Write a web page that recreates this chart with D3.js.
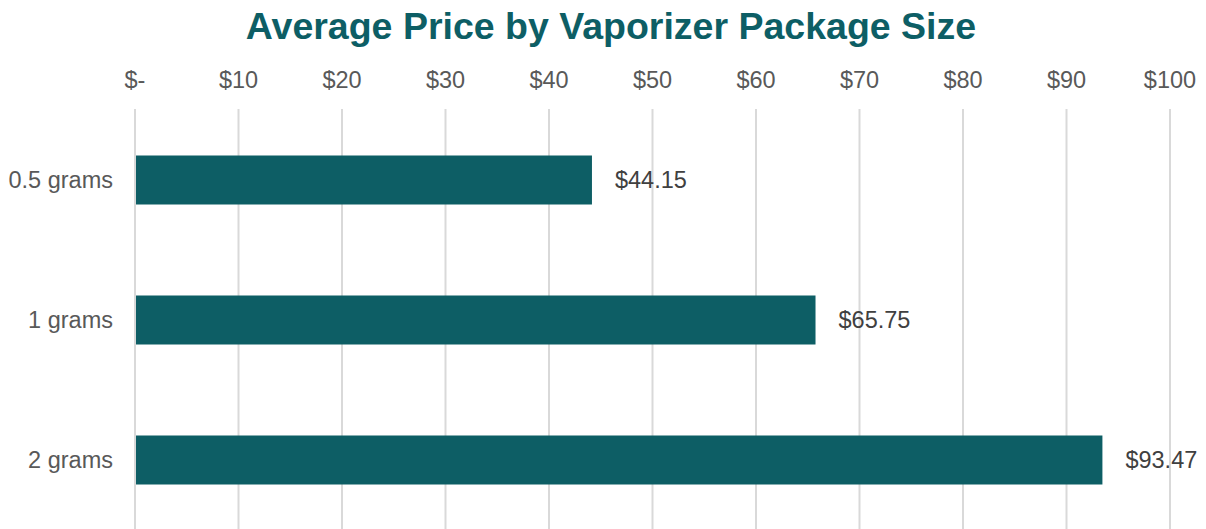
<!DOCTYPE html>
<html>
<head>
    <meta charset="utf-8">
    <title>Average Price by Vaporizer Package Size</title>
    <script src="https://d3js.org/d3.v7.min.js"></script>
    <style>
        body {
            margin: 0;
            background: #ffffff;
            font-family: 'Liberation Sans', Arial, sans-serif;
        }
        .grid line {
            stroke: #d9d9d9;
            stroke-width: 2;
        }
        .tick-label {
            font-size: 23.5px;
            fill: #595959;
        }
        .cat-label {
            font-size: 23.5px;
            fill: #595959;
        }
        .value-label {
            font-size: 23.5px;
            fill: #404040;
        }
    </style>
</head>
<body>
    <script>
        // chart data
        const sizes = ["0.5 grams", "1 grams", "2 grams"];
        const avgPrice = [44.15, 65.75, 93.47];
        const tickValues = [0, 10, 20, 30, 40, 50, 60, 70, 80, 90, 100];
        const tickLabels = ["$-", "$10", "$20", "$30", "$40", "$50", "$60", "$70", "$80", "$90", "$100"];
        const title = "Average Price by Vaporizer Package Size";

        const width = 1206, height = 529;
        const teal = "#0d5e65";

        const svg = d3.select("body")
            .append("svg")
            .attr("width", width)
            .attr("height", height);

        // scales
        const x = d3.scaleLinear()
            .domain([0, 100])
            .range([135, 1170]);
        const y = d3.scaleBand()
            .domain(sizes)
            .range([110, 530])
            .paddingInner(0.65)
            .paddingOuter(0.325);

        // title
        svg.append("text")
            .attr("x", 611)
            .attr("y", 39)
            .attr("text-anchor", "middle")
            .style("font-size", "37.5px")
            .style("font-weight", "bold")
            .style("fill", teal)
            .text(title);

        // vertical gridlines
        svg.append("g")
            .attr("class", "grid")
            .selectAll("line")
            .data(tickValues)
            .join("line")
            .attr("x1", d => x(d))
            .attr("x2", d => x(d))
            .attr("y1", 109)
            .attr("y2", height);

        // top tick labels
        svg.append("g")
            .selectAll("text")
            .data(tickValues)
            .join("text")
            .attr("class", "tick-label")
            .attr("x", d => x(d))
            .attr("y", 88)
            .attr("text-anchor", "middle")
            .text((d, i) => tickLabels[i]);

        // bars
        svg.append("g")
            .selectAll("rect")
            .data(avgPrice)
            .join("rect")
            .attr("x", x(0) + 1)
            .attr("y", (d, i) => y(sizes[i]))
            .attr("width", d => x(d) - x(0) - 1)
            .attr("height", y.bandwidth())
            .attr("fill", teal);

        // category labels
        svg.append("g")
            .selectAll("text")
            .data(sizes)
            .join("text")
            .attr("class", "cat-label")
            .attr("x", 113)
            .attr("y", d => y(d) + y.bandwidth() / 2 + 8)
            .attr("text-anchor", "end")
            .text(d => d);

        // value labels
        svg.append("g")
            .selectAll("text")
            .data(avgPrice)
            .join("text")
            .attr("class", "value-label")
            .attr("x", d => x(d) + 23)
            .attr("y", (d, i) => y(sizes[i]) + y.bandwidth() / 2 + 8)
            .text(d => "$" + d.toFixed(2));
    </script>
</body>
</html>
